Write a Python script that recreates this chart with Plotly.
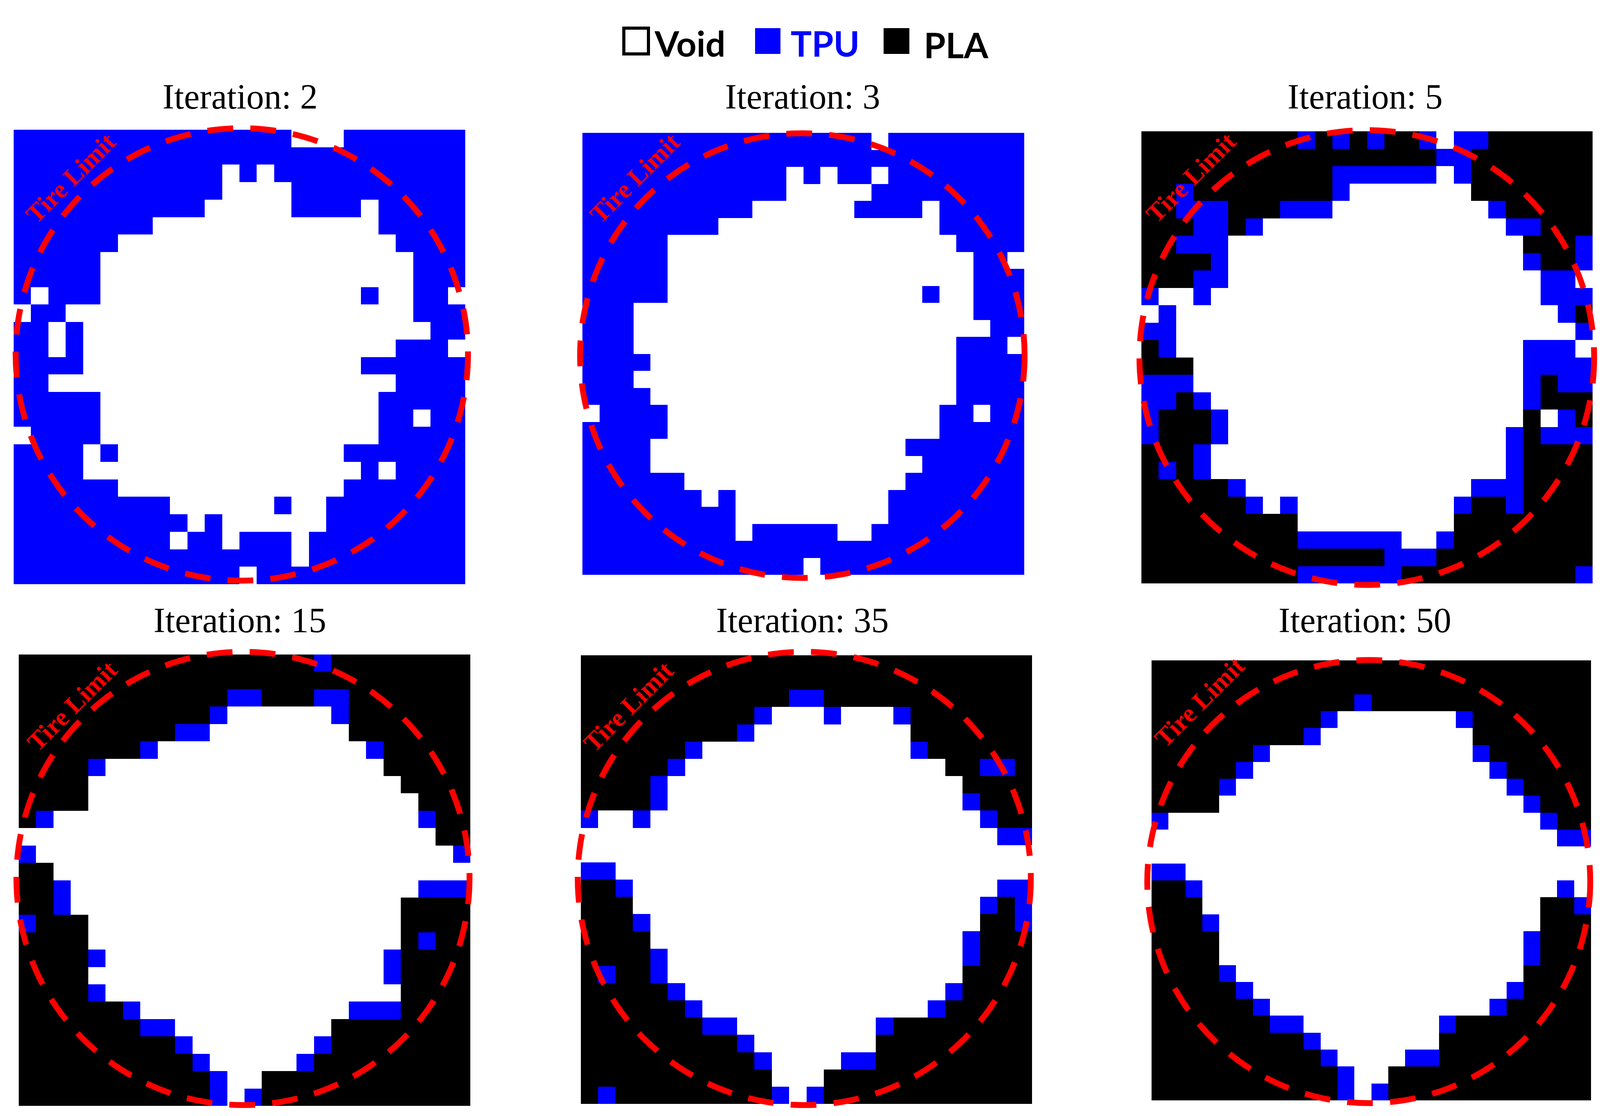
import plotly.graph_objects as go

# Material grids, 26 x 26 cells: . = Void, T = TPU, P = PLA
iter_2 = [
    "TTTTTTTTTTTTTTTT...TTTTTTT",
    "TTTTTTTTTTTTTTTTTTTTTTTTTT",
    "TTTTTTTTTTTT.T.TTTTTTTTTTT",
    "TTTTTTTTTTTT....TTTTTTTTTT",
    "TTTTTTTTTTT.....TTTT.TTTTT",
    "TTTTTTTT.............TTTTT",
    "TTTTTT................TTTT",
    "TTTTT..................TTT",
    "TTTTT..................TTT",
    "T.TTT...............T..TT.",
    ".TT....................TTT",
    "TT.T....................TT",
    "TT.T..................TTT.",
    "TTTT................TTTTTT",
    "TT....................TTTT",
    "TTTTT................TTTTT",
    "TTTTT................TT.TT",
    ".TTTT................TTTTT",
    "TTTT.T.............TTTTTTT",
    "TTTT................T.TTTT",
    "TTTTTT.............TTTTTTT",
    "TTTTTTTTT......T..TTTTTTTT",
    "TTTTTTTTTT.T......TTTTTTTT",
    "TTTTTTTTT.TT.TTT.TTTTTTTTT",
    "TTTTTTTTTTTTTTTT.TTTTTTTTT",
    "TTTTTTTTTTTTT.TTTTTTTTTTTT",
]
iter_3 = [
    "TTTTTTTTTTTTTTTTT.TTTTTTTT",
    "TTTTTTTTTTTTTTTTTTTTTTTTTT",
    "TTTTTTTTTTTT.T.TT.TTTTTTTT",
    "TTTTTTTTTTTT.....TTTTTTTTT",
    "TTTTTTTTTT......TTTT.TTTTT",
    "TTTTTTTT.............TTTTT",
    "TTTTT.................TTTT",
    "TTTTT..................TT.",
    "TTTTT..................TTT",
    "TTTTT...............T..TTT",
    "TTT....................TTT",
    "TTT.....................TT",
    "TTT...................TTT.",
    "TTTT..................TTTT",
    "TTT...................TTTT",
    "TTTT..................TTTT",
    ".TTTT................TT.TT",
    "TTTTT................TTTTT",
    "TTTT...............TTTTTTT",
    "TTTT................TTTTTT",
    "TTTTTT.............TTTTTTT",
    "TTTTTTT.T.........TTTTTTTT",
    "TTTTTTTTT.........TTTTTTTT",
    "TTTTTTTTT.TTTTT..TTTTTTTTT",
    "TTTTTTTTTTTTTTTTTTTTTTTTTT",
    "TTTTTTTTTTTTT.TTTTTTTTTTTT",
]
iter_5 = [
    "PPPPPPPPPTPTPTPPT.TTPPPPPP",
    "PPPPPPPPPPPPPPPPPTTPPPPPPP",
    "PPPPPPPPPPPTTTTTT.TPPPPPPP",
    "PPTPPPPPPPPT.......PPPPPPP",
    "PPTTTPPPTTT.........TPPPPP",
    "PPPTTPT..............TTPPP",
    "PPTTT.................PPPT",
    "PPPPT.................TPPT",
    "PPPTT..................TT.",
    "T..T...................TTT",
    ".T......................TP",
    "TT.......................T",
    "PT....................TTT.",
    "PPP...................TTTT",
    "TTT...................TPTT",
    "TTPT..................TPPP",
    "TPPPT.................P.TP",
    "TPPPT................TPTTT",
    "PPPT.................TPPPP",
    "PTPT.................TPPPP",
    "PPPPPT.............TTTPPPP",
    "PPPPPPT.T.........TPPTPPPP",
    "PPPPPPPPP.........PPPPPPPP",
    "PPPPPPPPPTTTTTT..TPPPPPPPP",
    "PPPPPPPPPPPPPPTTTPPPPPPPPP",
    "PPPPPPPPPTTTTTTPPPPPPPPPPT",
]
iter_15 = [
    "PPPPPPPPPPPPPPPPPTPPPPPPPP",
    "PPPPPPPPPPPPPPPPPPPPPPPPPP",
    "PPPPPPPPPPPPTTPPPTTPPPPPPP",
    "PPPPPPPPPPPT......TPPPPPPP",
    "PPPPPPPPPTT........PPPPPPP",
    "PPPPPPPT............TPPPPP",
    "PPPPT................PPPPP",
    "PPPP..................PPPP",
    "PPPP...................PPP",
    "PT.....................TPP",
    "........................PP",
    "T........................T",
    "PP........................",
    "PPT....................TTT",
    "PPT...................PPPP",
    "TPPP..................PPPP",
    "PPPP..................PTPP",
    "PPPPT................TPPPP",
    "PPPP.................TPPPP",
    "PPPPT.................PPPP",
    "PPPPPPT............TTTPPPP",
    "PPPPPPPTT.........PPPPPPPP",
    "PPPPPPPPPT.......TPPPPPPPP",
    "PPPPPPPPPPT.....TPPPPPPPPP",
    "PPPPPPPPPPPT..PPPPPPPPPPPP",
    "PPPPPPPPPPPT.TPPPPPPPPPPPP",
]
iter_35 = [
    "PPPPPPPPPPPPPPPPPPPPPPPPPP",
    "PPPPPPPPPPPPPPPPPPPPPPPPPP",
    "PPPPPPPPPPPPTTPPPPPPPPPPPP",
    "PPPPPPPPPPT...T...TPPPPPPP",
    "PPPPPPPPPT.........PPPPPPP",
    "PPPPPPT............TPPPPPP",
    "PPPPPT...............PPTTP",
    "PPPPT.................PPPP",
    "PPPPT.................TPPP",
    "T..T...................TPP",
    "........................TT",
    "..........................",
    "TT........................",
    "PPT.....................TT",
    "PPP....................TPT",
    "PPPT...................PPT",
    "PPPP..................TPPP",
    "PPPPT.................TPPP",
    "PTPPT.................PPPP",
    "PPPPPT...............TPPPP",
    "PPPPPPT.............TPPPPP",
    "PPPPPPPTT........TPPPPPPPP",
    "PPPPPPPPPT.......PPPPPPPPP",
    "PPPPPPPPPPT....TTPPPPPPPPP",
    "PPPPPPPPPPP...PPPPPPPPPPPP",
    "PTPPPPPPPPPT.TPPPPPPPPPPPP",
]
iter_50 = [
    "PPPPPPPPPPPPPPPPPPPPPPPPPP",
    "PPPPPPPPPPPPPPPPPPPPPPPPPP",
    "PPPPPPPPPPPPTPPPPPPPPPPPPP",
    "PPPPPPPPPPT.......TPPPPPPP",
    "PPPPPPPPPT.........PPPPPPP",
    "PPPPPPT............TPPPPPP",
    "PPPPPT..............TPPPPP",
    "PPPPT................TPPPP",
    "PPPP..................TPPP",
    "T......................TPP",
    "........................TT",
    "..........................",
    "TT........................",
    "PPT.....................T.",
    "PPP....................PPT",
    "PPPT...................PPP",
    "PPPP..................TPPP",
    "PPPP..................TPPP",
    "PPPPT.................PPPP",
    "PPPPPT...............TPPPP",
    "PPPPPPT.............TPPPPP",
    "PPPPPPPTT........TPPPPPPPP",
    "PPPPPPPPPT.......PPPPPPPPP",
    "PPPPPPPPPPT....TTPPPPPPPPP",
    "PPPPPPPPPPPT..PPPPPPPPPPPP",
    "PPPPPPPPPPPT.TPPPPPPPPPPPP",
]

grids = [iter_2, iter_3, iter_5, iter_15, iter_35, iter_50]
titles = ["Iteration: 2", "Iteration: 3", "Iteration: 5",
          "Iteration: 15", "Iteration: 35", "Iteration: 50"]
legend_labels = ["Void", "TPU", "PLA"]
legend_colors = ["#000000", "#0000ff", "#000000"]

W, H = 4113, 2856
codes = {".": 0, "T": 1, "P": 2}

# panel boxes in page pixels: x0, x1, y0, y1
panels = [
    (35, 1191, 332, 1495),
    (1491, 2622, 340, 1471),
    (2922, 4077, 336, 1493),
    (48, 1204, 1675, 2830),
    (1487, 2642, 1677, 2825),
    (2948, 4073, 1690, 2816),
]
# tire limit circle: centre x, centre y, radius
circles = [
    (619, 907, 579),
    (2054, 910, 569),
    (3499, 915, 582),
    (622, 2248, 580),
    (2059, 2248, 580),
    (3504, 2256, 567),
]
title_pos = [(614, 247), (2054, 247), (3494, 247), (614, 1587), (2054, 1587), (3494, 1587)]
text_pos = [(181, 456), (1625, 456), (3048, 454), (184, 1806), (1608, 1808), (3070, 1796)]
legend_boxes = [(1597, 1660), (1933, 1998), (2262, 2328)]
legend_text = [(1673, 110), (2022, 110), (2363, 114)]


def px(x):
    return x / W


def py(y):
    return 1 - y / H


fig = go.Figure()
layout_axes = {}
shapes = []
annotations = []

for i, grid in enumerate(grids):
    for row in grid:
        assert len(row) == 26, (titles[i], row, len(row))
    z = [[codes[c] for c in row] for row in grid]
    n = "" if i == 0 else str(i + 1)
    fig.add_trace(go.Heatmap(
        z=z,
        zmin=0,
        zmax=2,
        colorscale=[[0, "#ffffff"], [0.33, "#ffffff"], [0.33, "#0000ff"],
                    [0.66, "#0000ff"], [0.66, "#000000"], [1, "#000000"]],
        showscale=False,
        hoverinfo="skip",
        xaxis="x" + n,
        yaxis="y" + n,
    ))
    x0, x1, y0, y1 = panels[i]
    layout_axes["xaxis" + n] = dict(domain=[px(x0), px(x1)], range=[-0.5, 25.5],
                                    visible=False, anchor="y" + n)
    layout_axes["yaxis" + n] = dict(domain=[py(y1), py(y0)], range=[25.5, -0.5],
                                    visible=False, anchor="x" + n)

    # paper refs so the ring is not clipped at the panel edge
    cx, cy, r = circles[i]
    shapes.append(dict(type="circle", xref="paper", yref="paper",
                       x0=px(cx - r), x1=px(cx + r), y0=py(cy + r), y1=py(cy - r),
                       line=dict(color="#ff0000", width=15, dash="66px,44px")))

    annotations.append(dict(text=titles[i], xref="paper", yref="paper",
                            x=px(title_pos[i][0]), y=py(title_pos[i][1]),
                            showarrow=False, xanchor="center", yanchor="middle",
                            font=dict(family="Liberation Serif", size=90, color="#000000")))
    annotations.append(dict(text="Tire Limit", xref="paper", yref="paper",
                            x=px(text_pos[i][0]), y=py(text_pos[i][1]),
                            showarrow=False, xanchor="center", yanchor="middle",
                            textangle=-45,
                            font=dict(family="Liberation Serif", size=66, color="#ff0000",
                                      weight=700)))

# legend drawn by hand, the original sits apart from the plots
for j, label in enumerate(legend_labels):
    bx0, bx1 = legend_boxes[j]
    shapes.append(dict(type="rect", xref="paper", yref="paper",
                       x0=px(bx0), x1=px(bx1), y0=py(138), y1=py(72),
                       fillcolor="#ffffff" if label == "Void" else legend_colors[j],
                       line=dict(color=legend_colors[j], width=8 if label == "Void" else 0)))
    annotations.append(dict(text=label, xref="paper", yref="paper",
                            x=px(legend_text[j][0]), y=py(legend_text[j][1]),
                            showarrow=False, xanchor="left", yanchor="middle",
                            font=dict(family="Lato", size=90, color=legend_colors[j],
                                      weight=700)))

fig.update_layout(
    width=W,
    height=H,
    margin=dict(l=0, r=0, t=0, b=0),
    paper_bgcolor="#ffffff",
    plot_bgcolor="#ffffff",
    showlegend=False,
    shapes=shapes,
    annotations=annotations,
    **layout_axes,
)

# no page margin or scrollbars, so page pixels line up with the figure
fig.write_html("out.html", config={"displayModeBar": False},
               post_script="document.body.style.margin='0';"
                           "document.documentElement.style.overflow='hidden';")
